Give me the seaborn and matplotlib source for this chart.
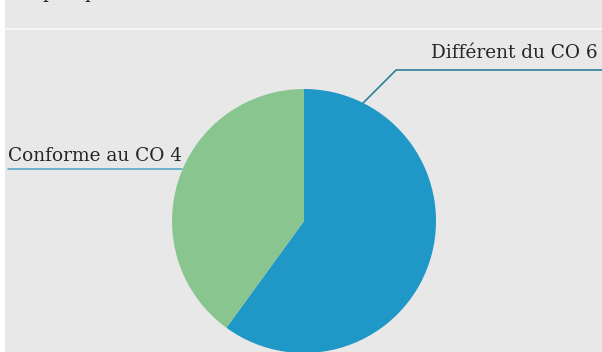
import numpy as np
import matplotlib
matplotlib.use("Agg")
import matplotlib.pyplot as plt
import seaborn as sns

# Share of opinions, in percent
categories = ["Différent du CO 6", "Conforme au CO 4"]
shares = [60, 40]
colors = ["#1f97c7", "#89c68f"]

sns.set_theme(style="white")
plt.rcParams["font.family"] = ["DejaVu Serif"]

W, H = 602, 352
fig = plt.figure(figsize=(W / 100, H / 100), dpi=100, facecolor="white")
ax = fig.add_axes([0, 0, 1, 1])

# panel background and thin separator under the (cropped) heading
ax.add_patch(plt.Rectangle((5, 0), W - 5, H, facecolor="#e8e8e8", edgecolor="none", zorder=0))
ax.plot([5, W], [H - 29, H - 29], color="#f6f6f6", lw=1.5, zorder=1)

cx, cy, r = 304, H - 221, 132
wedges, _ = ax.pie(shares, colors=colors, startangle=90, counterclock=False,
                   center=(cx, cy), radius=r, frame=True,
                   wedgeprops=dict(linewidth=0))
ax.set_xlim(0, W)
ax.set_ylim(0, H)
ax.set_aspect("equal")
ax.axis("off")

def edge_point(angle_deg):
    a = np.deg2rad(angle_deg)
    return cx + r * np.cos(a), cy + r * np.sin(a)

# right label: elbow leader
x0, y0 = edge_point(63.4)
elbow_y = H - 70
ax.plot([x0, x0 + (elbow_y - y0), W], [y0, elbow_y, elbow_y],
        color="#2e7f96", lw=1.2, zorder=3)
ax.text(W - 4, elbow_y + 8, categories[0], ha="right", va="bottom",
        fontsize=13.3, color="#262626", zorder=4)

# left label: straight leader
x1, y1 = edge_point(157)
ax.plot([8, x1], [y1, y1], color="#5aa9c9", lw=1.2, zorder=3)
ax.text(8, y1 + 4, categories[1], ha="left", va="bottom",
        fontsize=13.3, color="#262626", zorder=4)

# descenders of the heading above the panel
for hx in (48, 90):
    ax.text(hx, H + 2.5, "p", ha="center", va="baseline", fontsize=13.3,
            color="#262626", zorder=4, clip_on=False)

fig.savefig("out.png", dpi=100, facecolor="white")
